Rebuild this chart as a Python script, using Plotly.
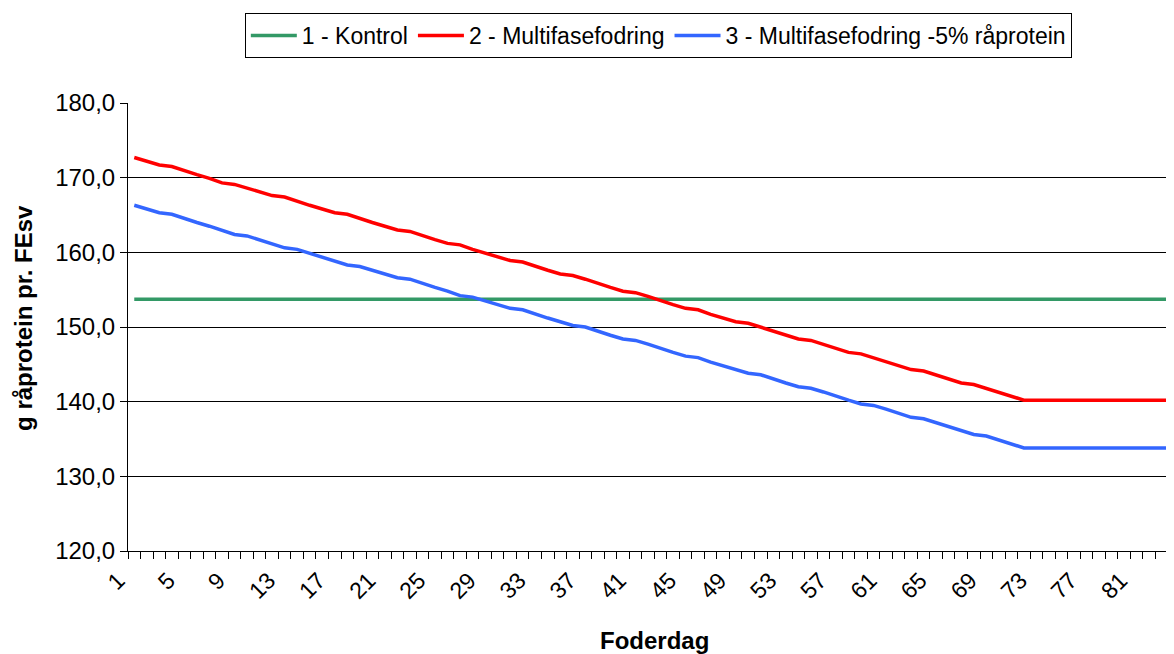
import plotly.graph_objects as go

days = list(range(1, 85))

kontrol = [153.7] * 84

multifase = [
    172.7, 172.2, 171.7, 171.5, 170.9, 170.4, 169.9, 169.3, 169.1, 168.6,
    168.1, 167.6, 167.4, 166.8, 166.3, 165.8, 165.3, 165.1, 164.5, 164.0,
    163.5, 163.0, 162.8, 162.2, 161.7, 161.2, 161.0, 160.4, 159.9, 159.4,
    158.9, 158.7, 158.1, 157.6, 157.1, 156.9, 156.4, 155.8, 155.3, 154.8,
    154.6, 154.1, 153.5, 153.0, 152.5, 152.3, 151.7, 151.2, 150.7, 150.5,
    150.0, 149.4, 148.9, 148.4, 148.2, 147.7, 147.1, 146.6, 146.4, 145.9,
    145.4, 144.8, 144.3, 144.1, 143.6, 143.0, 142.5, 142.3, 141.8, 141.3,
    140.7, 140.2, 140.2, 140.2, 140.2, 140.2, 140.2, 140.2, 140.2, 140.2,
    140.2, 140.2, 140.2, 140.2,
]

multifase_5 = [
    166.3, 165.8, 165.3, 165.1, 164.5, 164.0, 163.5, 162.9, 162.4, 162.2,
    161.7, 161.2, 160.6, 160.4, 159.9, 159.4, 158.9, 158.3, 158.1, 157.6,
    157.1, 156.6, 156.4, 155.8, 155.3, 154.8, 154.2, 154.0, 153.5, 153.0,
    152.5, 152.3, 151.7, 151.2, 150.7, 150.2, 150.0, 149.4, 148.9, 148.4,
    148.2, 147.7, 147.1, 146.6, 146.1, 145.9, 145.3, 144.8, 144.3, 143.8,
    143.6, 143.0, 142.5, 142.0, 141.8, 141.3, 140.7, 140.2, 139.7, 139.5,
    139.0, 138.4, 137.9, 137.7, 137.2, 136.6, 136.1, 135.6, 135.4, 134.9,
    134.3, 133.8, 133.8, 133.8, 133.8, 133.8, 133.8, 133.8, 133.8, 133.8,
    133.8, 133.8, 133.8, 133.8,
]

series_names = ["1 - Kontrol", "2 - Multifasefodring", "3 - Multifasefodring -5% råprotein"]
series_colors = ["#339966", "#FF0000", "#3366FF"]
x_tick_labels = [str(d) for d in range(1, 85, 4)]
y_tick_values = [120, 130, 140, 150, 160, 170, 180]

FONT = "Liberation Sans, Arial, sans-serif"

fig = go.Figure()
for name, vals, col in zip(series_names, [kontrol, multifase, multifase_5], series_colors):
    fig.add_trace(go.Scatter(x=days, y=vals, mode="lines", name=name,
                             line=dict(color=col, width=3.5)))

# page has an 8px body margin: figure is 1166x646 placed at (8, 8)
fig.update_layout(
    width=1166, height=646,
    margin=dict(l=120, r=0, t=95, b=103, autoexpand=False),
    paper_bgcolor="white", plot_bgcolor="white",
    font=dict(family=FONT, size=24, color="black"),
    separators=",.",
    showlegend=True,
    legend=dict(orientation="h", x=0.507, xanchor="center", y=1.201, yanchor="top",
                bordercolor="black", borderwidth=1, bgcolor="white",
                font=dict(family=FONT, size=23, color="black"),
                tracegroupgap=0, itemwidth=46),
    xaxis=dict(range=[0.5, 83.98], showgrid=False, zeroline=False,
               showline=True, linecolor="black", linewidth=1,
               tickmode="array", tickvals=[int(t) for t in x_tick_labels], ticktext=x_tick_labels,
               ticks="", tickangle=-45, tickfont=dict(size=23),
               ticklabelshift=-16, ticklabelstandoff=6,
               minor=dict(tickmode="array", tickvals=[d + 0.5 for d in range(0, 85)],
                          ticks="outside", ticklen=7, tickcolor="black", tickwidth=1,
                          showgrid=False)),
    yaxis=dict(range=[120, 180], tickmode="array", tickvals=y_tick_values,
               tickformat=".1f", showgrid=True, gridcolor="black", gridwidth=1,
               zeroline=False, showline=True, linecolor="black", linewidth=1,
               ticks="outside", ticklen=7, tickcolor="black", tickfont=dict(size=24)),
    annotations=[
        dict(text="<b>Foderdag</b>", xref="paper", yref="paper", x=0.503, y=-0.1987,
             xanchor="center", yanchor="middle", showarrow=False,
             font=dict(family=FONT, size=24, color="black")),
        dict(text="<b>g råprotein pr. FEsv</b>", xref="paper", yref="paper",
             x=-0.1005, y=0.52, xanchor="center", yanchor="middle", textangle=-90,
             showarrow=False, font=dict(family=FONT, size=24, color="black")),
    ],
)

fig.write_html("out.html")
